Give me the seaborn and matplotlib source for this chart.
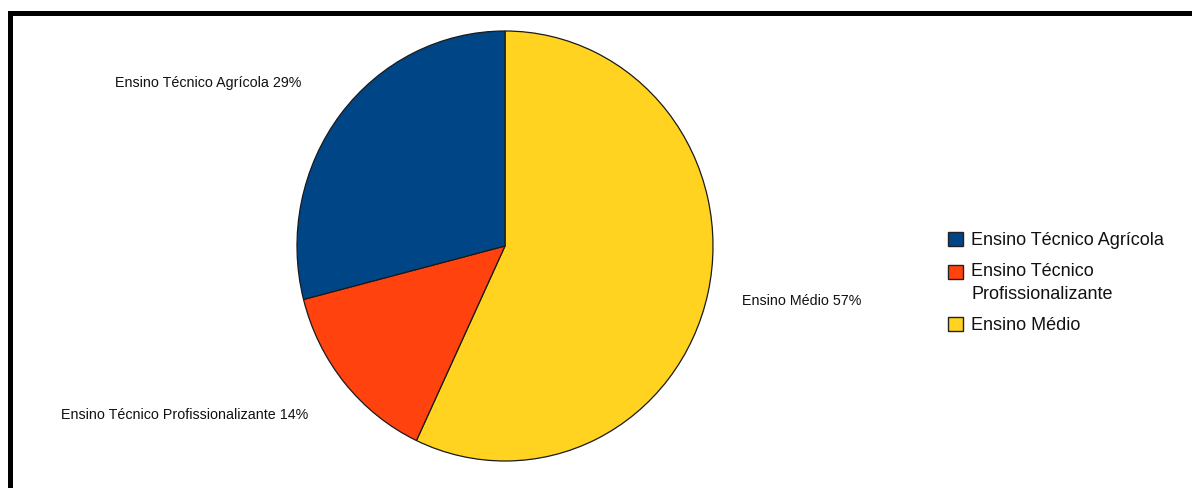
import matplotlib
matplotlib.use("Agg")
import numpy as np
import matplotlib.pyplot as plt
from matplotlib.patches import Rectangle, Patch
from matplotlib.legend_handler import HandlerPatch
import seaborn as sns

# Enrolment shares by type of secondary education
categorias = ["Ensino Médio", "Ensino Técnico Profissionalizante", "Ensino Técnico Agrícola"]
percentuais = [57, 14, 29]
cores = ["#FFD320", "#FF420E", "#004586"]
distancia_rotulo = [1.17, 1.23, 1.24]

legenda_ordem = ["Ensino Técnico Agrícola", "Ensino Técnico Profissionalizante", "Ensino Médio"]
legenda_textos = ["Ensino Técnico Agrícola", "Ensino Técnico\nProfissionalizante", "Ensino Médio"]

sns.set_theme(style="white")
plt.rcParams["font.family"] = ["Liberation Sans", "DejaVu Sans"]

W, H = 1192, 488
fig = plt.figure(figsize=(W / 100, H / 100), dpi=100)

# Axes placed in pixel units so the pie sits left of centre, slightly taller than wide
cx, cy, rx, ry = 505, 246, 208, 215
aw, ah = 2.2 * rx, 2.2 * ry
ax = fig.add_axes([(cx - aw / 2) / W, (H - cy - ah / 2) / H, aw / W, ah / H])

rotulos = [f"{c} {p}%" for c, p in zip(categorias, percentuais)]
wedges, textos = ax.pie(
    percentuais,
    labels=rotulos,
    colors=cores,
    startangle=90,
    counterclock=False,
    labeldistance=1.2,
    wedgeprops=dict(edgecolor="#1a1a1a", linewidth=0.9),
    textprops=dict(fontsize=10.3, color="#111111"),
)
# Push each label out along its wedge's mid-angle by its own distance
for w, t, d in zip(wedges, textos, distancia_rotulo):
    ang = np.deg2rad((w.theta1 + w.theta2) / 2)
    t.set_position((d * np.cos(ang), d * np.sin(ang)))

ax.set_xlim(-1.1, 1.1)
ax.set_ylim(-1.1, 1.1)
ax.set_aspect("auto")
ax.axis("off")


def quadrado(legend, orig_handle, xdescent, ydescent, width, height, fontsize):
    # Square key; for a two-line label it lines up with the first line
    desloc = getattr(orig_handle, "desloc", 0.0)
    return Rectangle((-xdescent, -ydescent + desloc), width, height)


mapa_cor = dict(zip(categorias, cores))
handles = []
for c, txt in zip(legenda_ordem, legenda_textos):
    p = Patch(facecolor=mapa_cor[c], edgecolor="#222222", linewidth=1.0)
    p.desloc = 8.0 if "\n" in txt else 0.0
    handles.append(p)

leg = fig.legend(
    handles,
    legenda_textos,
    loc="center left",
    bbox_to_anchor=(948 / W, (H - 283) / H),
    frameon=False,
    fontsize=13,
    handlelength=0.83,
    handleheight=0.83,
    handletextpad=0.45,
    labelspacing=0.8,
    borderaxespad=0,
    borderpad=0,
    handler_map={Patch: HandlerPatch(patch_func=quadrado)},
)
for t in leg.get_texts():
    t.set_linespacing(1.4)
    t.set_color("#111111")

# Heavy frame along the top and left edges
frame = Rectangle(
    (9.5 / W, -0.2), 1.2, (H - 12.5) / H + 0.2,
    transform=fig.transFigure, fill=False, edgecolor="black", linewidth=3.6,
)
fig.add_artist(frame)

fig.savefig("out.png", dpi=100, facecolor="white")
